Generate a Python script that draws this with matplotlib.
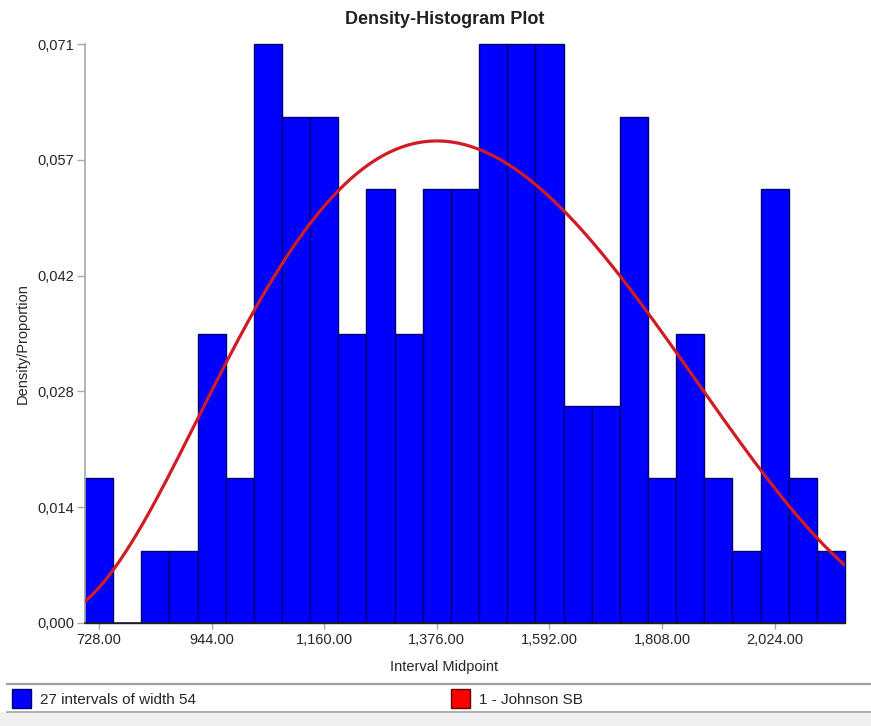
import numpy as np
import matplotlib
matplotlib.use("Agg")
import matplotlib.pyplot as plt
from matplotlib.patches import Rectangle
from matplotlib.lines import Line2D

plt.rcParams['font.family'] = ['Liberation Sans', 'DejaVu Sans']

# ---- data ----
midpoints = [728, 782, 836, 890, 944, 998, 1052, 1106, 1160, 1214, 1268, 1322, 1376, 1430,
             1484, 1538, 1592, 1646, 1700, 1754, 1808, 1862, 1916, 1970, 2024, 2078, 2132]
proportions = [0.0177, 0.0, 0.0088, 0.0088, 0.0354, 0.0177, 0.0708, 0.0619, 0.0619, 0.0354,
               0.0531, 0.0354, 0.0531, 0.0531, 0.0708, 0.0708, 0.0708, 0.0265, 0.0265, 0.0619,
               0.0177, 0.0354, 0.0177, 0.0088, 0.0531, 0.0177, 0.0088]
bin_width = 54
xtick_values = [728, 944, 1160, 1376, 1592, 1808, 2024]
xtick_labels = ["728.00", "944.00", "1,160.00", "1,376.00", "1,592.00", "1,808.00", "2,024.00"]
ytick_values = [0.0, 0.01416, 0.02832, 0.04248, 0.05664, 0.0708]
ytick_labels = ["0,000", "0,014", "0,028", "0,042", "0,057", "0,071"]
# Johnson SB fitted parameters (xi, lambda, gamma, delta)
jsb_xi, jsb_lambda, jsb_gamma, jsb_delta = 540.0, 1986.7, 0.3077, 1.3343
hist_label = "27 intervals of width 54"
curve_label = "1 - Johnson SB"


def johnson_sb_pdf(x, xi, lam, g, d):
    u = (x - xi) / lam
    z = g + d * np.log(u / (1 - u))
    return d / (lam * np.sqrt(2 * np.pi) * u * (1 - u)) * np.exp(-0.5 * z * z)


W, H = 871, 726
fig = plt.figure(figsize=(W / 100, H / 100), dpi=100)
fig.patch.set_facecolor('white')

# axes placement in pixels
L, R, T, B = 85, 845, 44, 623
ax = fig.add_axes([L / W, 1 - B / H, (R - L) / W, (B - T) / H])

x_lo = midpoints[0] - bin_width / 2
x_hi = midpoints[-1] + bin_width / 2
ax.bar(midpoints, proportions, width=bin_width, color='#0000ff', edgecolor='#000070',
       linewidth=1.0, align='center', clip_on=False, zorder=2)

xx = np.linspace(x_lo, x_hi, 400)
yy = johnson_sb_pdf(xx, jsb_xi, jsb_lambda, jsb_gamma, jsb_delta) * bin_width
ax.plot(xx, yy, color='#d01c24', linewidth=2.3, zorder=3, solid_capstyle='butt')

ax.set_xlim(x_lo, x_hi)
ax.set_ylim(0, ytick_values[-1])

for s in ['top', 'right']:
    ax.spines[s].set_visible(False)
ax.spines['left'].set_color('#a8a8a8')
ax.spines['left'].set_linewidth(1.2)
ax.spines['bottom'].set_color('#202020')
ax.spines['bottom'].set_linewidth(1.2)
ax.spines['bottom'].set_zorder(4)

ax.set_xticks(xtick_values)
ax.set_xticklabels(xtick_labels)
ax.set_yticks(ytick_values)
ax.set_yticklabels(ytick_labels)
ax.tick_params(axis='x', length=4, width=1, color='#a8a8a8', pad=3, labelsize=10.5,
               labelcolor='#262626')
ax.tick_params(axis='y', length=6, width=1, color='#a8a8a8', pad=1.5, labelsize=10.5,
               labelcolor='#262626')

# titles and labels
fig.text(445 / W, 1 - 20 / H, "Density-Histogram Plot", ha='center', va='center',
         fontsize=13, fontweight='bold', color='#202020')
fig.text(444 / W, 1 - 667 / H, "Interval Midpoint", ha='center', va='center',
         fontsize=10.5, color='#262626')
fig.text(23 / W, 1 - 344 / H, "Density/Proportion", ha='center', va='center',
         rotation=90, fontsize=10.5, color='#262626')

# legend strip
fig.add_artist(Rectangle((0, 0), 1, (H - 712) / H, transform=fig.transFigure,
                         facecolor='#f0f0f0', edgecolor='none'))
fig.add_artist(Line2D([7 / W, 1], [1 - 684 / H] * 2, transform=fig.transFigure,
                      color='#a0a0a0', linewidth=1.6))
fig.add_artist(Line2D([7 / W, 1], [1 - 712 / H] * 2, transform=fig.transFigure,
                      color='#a0a0a0', linewidth=1.2))

def legend_item(x0, face, edge, text):
    fig.add_artist(Rectangle((x0 / W, 1 - 708 / H), 19 / W, 19 / H, transform=fig.transFigure,
                             facecolor=face, edgecolor=edge, linewidth=1.0))
    fig.text((x0 + 28) / W, 1 - 700 / H, text, ha='left', va='center', fontsize=11,
             color='#262626')

legend_item(12, '#0000ff', '#00006a', hist_label)
legend_item(451, '#ff0000', '#6a0000', curve_label)

fig.savefig("out.png", dpi=100)
